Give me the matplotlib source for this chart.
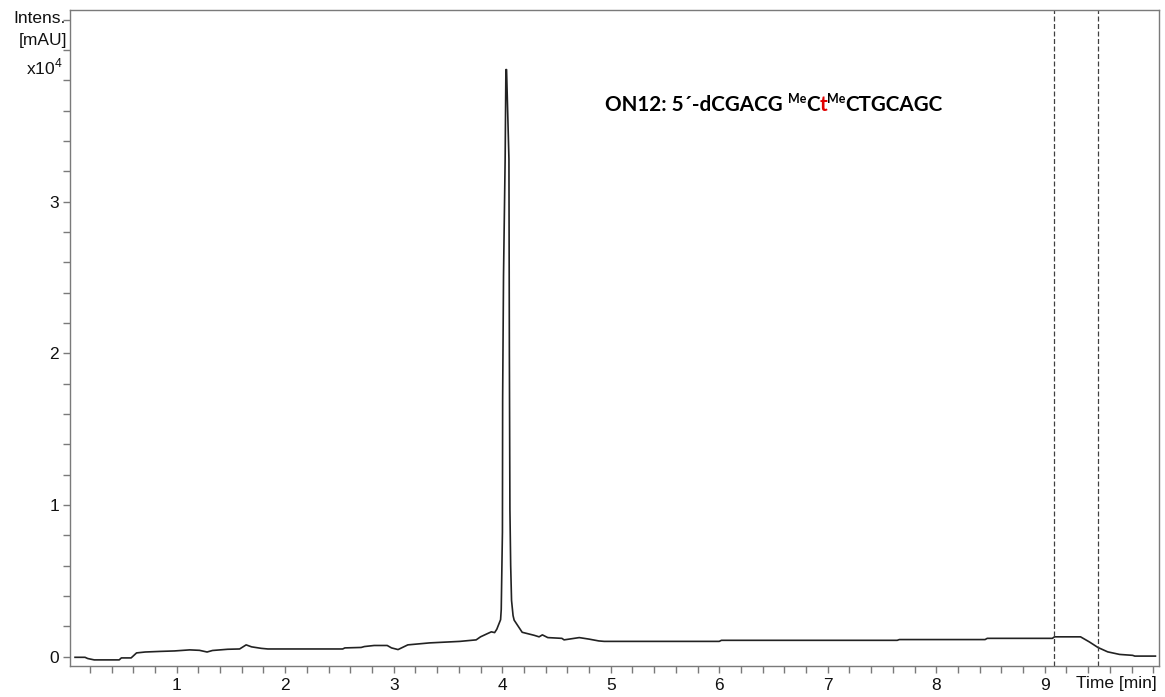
import matplotlib
matplotlib.use("Agg")
import matplotlib.pyplot as plt
from matplotlib.ticker import MultipleLocator, FixedLocator

# ---- data (time in min, intensity in units of 1e4 mAU) ----
time_min = [0.063, 0.155, 0.18, 0.24, 0.47, 0.49, 0.58, 0.63, 0.71, 0.85, 0.98,
            1.12, 1.21, 1.28, 1.33, 1.47, 1.58, 1.64, 1.69, 1.78, 1.84, 2.53,
            2.55, 2.70, 2.73, 2.82, 2.94, 2.98, 3.04, 3.13, 3.33, 3.61, 3.76,
            3.80, 3.86, 3.90, 3.93, 3.95, 3.985, 3.991, 4.002, 4.004, 4.012,
            4.027, 4.034, 4.040, 4.062, 4.066, 4.071, 4.078, 4.086, 4.10, 4.11,
            4.184, 4.295, 4.34, 4.37,
            4.42, 4.55, 4.57, 4.71, 4.80, 4.89, 4.94, 6.00, 6.02, 7.64, 7.66,
            8.45, 8.47, 9.07, 9.09, 9.33, 9.41, 9.49, 9.58, 9.69, 9.81, 9.83,
            10.02]
intensity = [-0.005, -0.005, -0.013, -0.022, -0.022, -0.009, -0.009, 0.024, 0.030,
             0.034, 0.037, 0.044, 0.041, 0.030, 0.040, 0.048, 0.050, 0.077, 0.064,
             0.054, 0.050, 0.050, 0.057, 0.060, 0.066, 0.073, 0.073, 0.057, 0.046,
             0.077, 0.090, 0.100, 0.110, 0.130, 0.150, 0.163, 0.158, 0.180, 0.243,
             0.310, 0.820, 1.700, 2.510, 3.280, 3.870, 3.870, 3.280, 2.000, 0.970,
             0.600, 0.370, 0.270, 0.240,
             0.160, 0.140, 0.130, 0.143, 0.125, 0.120, 0.110, 0.125, 0.115, 0.103,
             0.100, 0.100, 0.107, 0.107, 0.112, 0.112, 0.120, 0.120, 0.130, 0.130,
             0.097, 0.060, 0.031, 0.014, 0.008, 0.003, 0.003]
x_ticks = [1, 2, 3, 4, 5, 6, 7, 8, 9]
x_tick_labels = ["1", "2", "3", "4", "5", "6", "7", "8", "9"]
y_ticks = [0, 1, 2, 3]
y_tick_labels = ["0", "1", "2", "3"]
marker_lines = [9.083, 9.488]

W, H = 1165, 697
fig = plt.figure(figsize=(W / 100, H / 100), dpi=100)
ax = fig.add_axes([70 / W, 1 - 665.5 / H, (1159 - 70) / W, (665.5 - 10) / H])

tick_font = "Liberation Sans"
spine_col = "#7a7a7a"

ax.plot(time_min, intensity, color="#222222", lw=1.2)
for xv in marker_lines:
    ax.axvline(xv, color="#404040", lw=0.9, linestyle=(0, (4, 2)))

ax.set_xlim(0.0167, 10.053)
ax.set_ylim(-0.059, 4.263)

ax.xaxis.set_major_locator(FixedLocator(x_ticks))
ax.set_xticklabels(x_tick_labels)
ax.xaxis.set_minor_locator(MultipleLocator(0.2))
ax.yaxis.set_major_locator(FixedLocator(y_ticks))
ax.set_yticklabels(y_tick_labels)
ax.yaxis.set_minor_locator(MultipleLocator(0.2))

for s in ax.spines.values():
    s.set_color(spine_col)
    s.set_linewidth(1.0)

ax.tick_params(axis="both", which="both", direction="out", length=5, width=1.0,
               color=spine_col, labelsize=12.5, labelcolor="#111111")
ax.tick_params(axis="x", which="both", pad=4)
ax.tick_params(axis="y", which="both", pad=3)
for lab in ax.get_xticklabels() + ax.get_yticklabels():
    lab.set_fontfamily(tick_font)

# axis labels
fig.text(66 / W, 1 - 23 / H, "Intens.", ha="right", va="baseline",
         fontsize=12.5, family=tick_font, color="#111111")
fig.text(67 / W, 1 - 45 / H, "[mAU]", ha="right", va="baseline",
         fontsize=12.5, family=tick_font, color="#111111")
fig.text(63 / W, 1 - 74 / H, r"x10$^{\mathregular{4}}$", ha="right", va="baseline",
         fontsize=12.5, family=tick_font, color="#111111")
fig.text(1157 / W, 1 - 688 / H, "Time [min]", ha="right", va="baseline",
         fontsize=12.5, family=tick_font, color="#111111")

# title annotation with superscripts and red t
tfam = ["Lato", "DejaVu Sans"]
big = 14.9
small = 9
base = fig.text(605 / W, 1 - 110.7 / H, "ON12: 5\u00b4-dCGACG ", ha="left", va="baseline",
                fontsize=big, fontweight="bold", family=tfam, color="#000000")
pieces = [("Me", small, "#000000", 7), ("C", big, "#000000", 0), ("t", big, "#e00000", 0),
          ("Me", small, "#000000", 7), ("CTGCAGC", big, "#000000", 0)]
prev = base
prev_raise = 0
for txt, fs, col, rise in pieces:
    prev = ax.annotate(txt, xy=(1, 0), xycoords=prev, xytext=(0, rise - prev_raise),
                       textcoords="offset points", ha="left", va="bottom",
                       fontsize=fs, fontweight="bold", family=tfam, color=col,
                       annotation_clip=False)
    prev_raise = rise

fig.savefig("out.png", dpi=100)
